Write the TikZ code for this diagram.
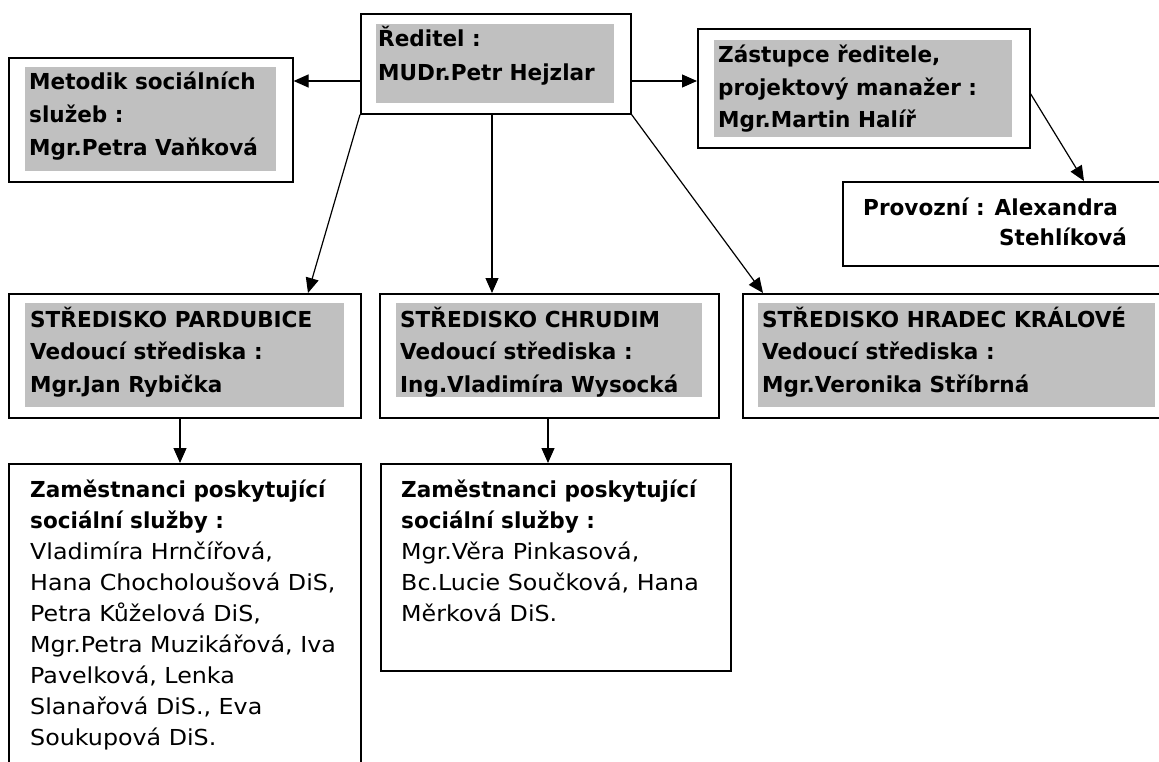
\documentclass[tikz,border=0pt]{standalone}
\usepackage{fontspec}
\setmainfont{DejaVu Sans}[FakeStretch=1.08, BoldFeatures={FakeStretch=0.98}]
\usetikzlibrary{arrows.meta}
\definecolor{hl}{HTML}{C0C0C0}

\begin{document}
\begin{tikzpicture}[x=1pt, y=-1pt,
    box/.style={draw, line width=1.6pt, anchor=north west, inner sep=0pt},
    shade/.style={fill=hl, anchor=north west, inner sep=0pt},
    headtxt/.style={anchor=base west, align=left, inner sep=0pt,
      font=\fontsize{22}{32.5}\selectfont\bfseries},
    listtxt/.style={anchor=base west, align=left, inner sep=0pt,
      font=\fontsize{22}{31}\selectfont},
    arr/.style={line width=1.2pt, -{Triangle[length=15pt,width=13pt]}}]
  \useasboundingbox (0,0) rectangle (1159,762);

  % top row (text nodes sit on their last baseline)
  \node[box, minimum width=270, minimum height=100] (dir) at (360,13) {};
  \node[shade, minimum width=238, minimum height=79] (dirhl) at (376,24) {};
  \node[headtxt, font=\fontsize{22}{34}\selectfont\bfseries] (dirt) at (378,81)
    {Ředitel :\\MUDr.Petr Hejzlar};

  \node[box, minimum width=284, minimum height=124] (met) at (8,57) {};
  \node[shade, minimum width=251, minimum height=104] (methl) at (25,67) {};
  \node[headtxt, font=\fontsize{22}{33}\selectfont\bfseries] (mett) at (29,156)
    {Metodik sociálních\\služeb :\\Mgr.Petra Vaňková};

  \node[box, minimum width=332, minimum height=119] (dep) at (697,28) {};
  \node[shade, minimum width=298, minimum height=97] (dephl) at (714,40) {};
  \node[headtxt] (dept) at (718,128)
    {Zástupce ředitele,\\projektový manažer :\\Mgr.Martin Halíř};

  \node[box, minimum width=340, minimum height=84] (prov) at (842,181) {};
  \node[headtxt, font=\fontsize{22}{30}\selectfont\bfseries] (provt) at (863,245)
    {Provozní : Alexandra\\\hspace*{136pt}Stehlíková};

  % centres
  \node[box, minimum width=352, minimum height=124] (pce) at (8,293) {};
  \node[shade, minimum width=319, minimum height=104] (pcehl) at (25,303) {};
  \node[headtxt] (pcet) at (30,392)
    {STŘEDISKO PARDUBICE\\Vedoucí střediska :\\Mgr.Jan Rybička};

  \node[box, minimum width=339, minimum height=124] (cr) at (379,293) {};
  \node[shade, minimum width=306, minimum height=94] (crhl) at (396,303) {};
  \node[headtxt] (crt) at (400,392)
    {STŘEDISKO CHRUDIM\\Vedoucí střediska :\\Ing.Vladimíra Wysocká};

  \node[box, minimum width=430, minimum height=124] (hk) at (742,293) {};
  \node[shade, minimum width=397, minimum height=104] (hkhl) at (758,303) {};
  \node[headtxt] (hkt) at (762,392)
    {STŘEDISKO HRADEC KRÁLOVÉ\\Vedoucí střediska :\\Mgr.Veronika Stříbrná};

  % staff
  \node[box, minimum width=352, minimum height=330] (zpce) at (8,463) {};
  \node[listtxt] (zpcet) at (30,745)
    {\textbf{Zaměstnanci poskytující}\\\textbf{sociální služby :}\\
     Vladimíra Hrnčířová,\\Hana Chocholoušová DiS,\\Petra Kůželová DiS,\\
     Mgr.Petra Muzikářová, Iva\\Pavelková, Lenka\\Slanařová DiS., Eva\\
     Soukupová DiS.};

  \node[box, minimum width=350, minimum height=207] (zcr) at (380,463) {};
  \node[listtxt] (zcrt) at (401,621)
    {\textbf{Zaměstnanci poskytující}\\\textbf{sociální služby :}\\
     Mgr.Věra Pinkasová,\\Bc.Lucie Součková, Hana\\Měrková DiS.};

  % connectors
  \coordinate (lvl) at (0,81);
  \draw[arr] (dir.west |- lvl) -- (met.east |- lvl);
  \draw[arr] (dir.east |- lvl) -- (dep.west |- lvl);
  \draw[arr] (dir.south west) -- ([xshift=300pt]pce.north west);
  \draw[arr] ([xshift=132pt]dir.south west) -- ([xshift=132pt]dir.south west |- cr.north);
  \draw[arr] (dir.south east) -- ([xshift=21pt]hk.north west);
  \draw[arr] ([yshift=-5.5pt]dep.east) -- ([xshift=242pt]prov.north west);
  \draw[arr] ([xshift=172pt]pce.south west) -- ([xshift=172pt]pce.south west |- zpce.north);
  \draw[arr] ([xshift=169pt]cr.south west) -- ([xshift=169pt]cr.south west |- zcr.north);
\end{tikzpicture}
\end{document}
